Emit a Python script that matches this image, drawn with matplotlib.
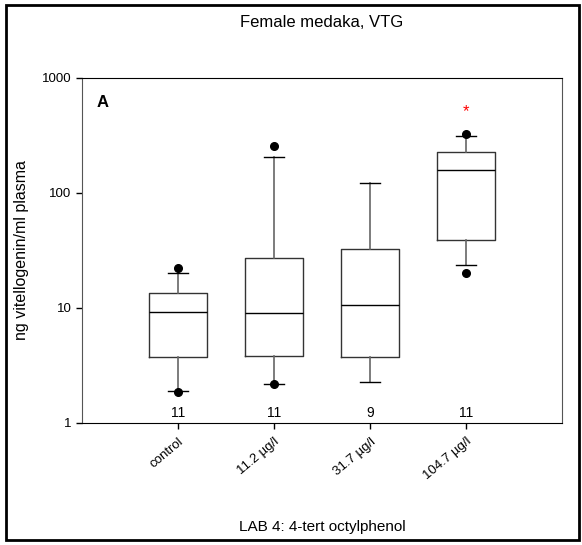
import matplotlib
matplotlib.use("Agg")
import matplotlib.pyplot as plt
from matplotlib.patches import Rectangle

# box statistics (ng vitellogenin/ml plasma)
groups = ["control", "11.2 µg/l", "31.7 µg/l", "104.7 µg/l"]
n_fish = [11, 11, 9, 11]
q1 = [3.77, 3.80, 3.77, 39.0]
med = [9.3, 9.1, 10.6, 157.0]
q3 = [13.6, 27.4, 32.8, 226.0]
whislo = [1.91, 2.17, 2.27, 23.5]
whishi = [20.3, 207.0, 121.0, 313.0]
fliers = [[1.86, 22.1], [2.19, 255.0], [], [20.3, 324.0]]
signif_y = 509.0  # red star above the highest group

plt.rcParams["font.family"] = ["Liberation Sans", "DejaVu Sans"]

fig = plt.figure(figsize=(5.82, 5.45), dpi=100)
ax = fig.add_axes([0.1409, 0.2239, 0.8247, 0.633])

stats = []
for i in range(len(groups)):
    stats.append({"med": med[i], "q1": q1[i], "q3": q3[i],
                  "whislo": whislo[i], "whishi": whishi[i],
                  "fliers": fliers[i], "label": groups[i]})

pos = list(range(1, len(groups) + 1))
ax.bxp(stats, positions=pos, widths=0.6, capwidths=0.2, showfliers=True,
       boxprops=dict(color="#333333", linewidth=1.0),
       whiskerprops=dict(color="#666666", linewidth=1.2),
       capprops=dict(color="black", linewidth=1.0),
       medianprops=dict(color="black", linewidth=1.0),
       flierprops=dict(marker="o", markerfacecolor="black",
                       markeredgecolor="black", markersize=5.5))

ax.set_yscale("log")
ax.set_ylim(1, 1000)
ax.set_xlim(0, 5)
ax.set_yticks([1, 10, 100, 1000])
ax.set_yticklabels(["1", "10", "100", "1000"])
ax.yaxis.set_minor_locator(matplotlib.ticker.NullLocator())
ax.set_xticks(pos)
ax.set_xticklabels(groups, rotation=40, ha="right", rotation_mode="anchor")
ax.tick_params(axis="both", labelsize=9.5, direction="out", length=4, width=1)
ax.tick_params(axis="x", pad=5)

for s in ["left", "right"]:
    ax.spines[s].set_color("#555555")
for s in ["top", "bottom"]:
    ax.spines[s].set_color("black")

for i, n in enumerate(n_fish):
    ax.text(pos[i], 1.07, str(n), ha="center", va="bottom", fontsize=10)

ax.text(4, signif_y, "*", color="red", ha="center", va="center", fontsize=12)
ax.text(0.03, 0.93, "A", transform=ax.transAxes, fontsize=12,
        fontweight="bold", ha="left", va="center")

ax.set_ylabel("ng vitellogenin/ml plasma", fontsize=11.5)
ax.yaxis.set_label_coords(-0.11, 0.5)

fig.text(0.553, 0.958, "Female medaka, VTG", ha="center", va="center", fontsize=12)
fig.text(0.553, 0.033, "LAB 4: 4-tert octylphenol", ha="center", va="center", fontsize=11)

fig.patches.append(Rectangle((0.011, 0.009), 0.984, 0.982, transform=fig.transFigure,
                             fill=False, edgecolor="black", linewidth=2))

fig.savefig("out.png", dpi=100)
